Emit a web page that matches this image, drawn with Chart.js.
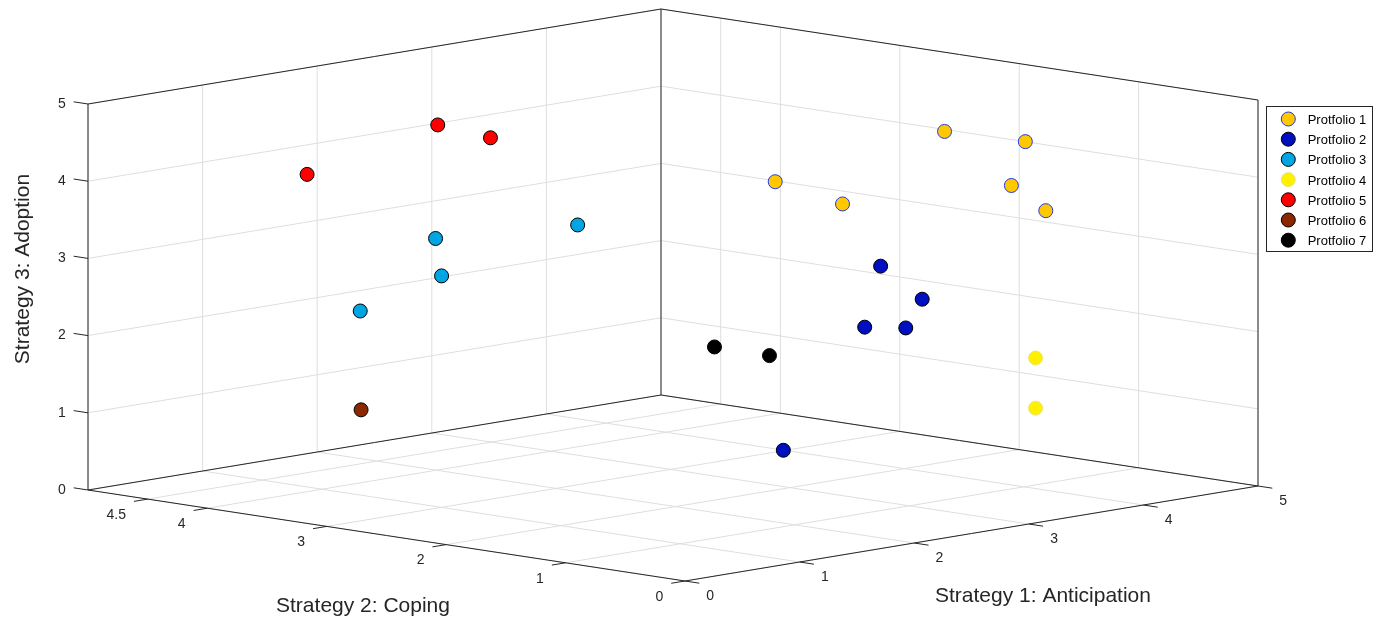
<!DOCTYPE html>
<html>
<head>
<meta charset="utf-8">
<style>
  html, body { margin: 0; padding: 0; background: #ffffff; }
  canvas { display: block; }
</style>
<script src="https://cdn.jsdelivr.net/npm/chart.js@4/dist/chart.umd.min.js"></script>
</head>
<body>
<canvas id="chart" width="1380" height="617"></canvas>
<script>
// Portfolio membership of each respondent, and its score on the three strategies
const portfolioNames = ['Protfolio 1', 'Protfolio 2', 'Protfolio 3', 'Protfolio 4', 'Protfolio 5', 'Protfolio 6', 'Protfolio 7'];
const portfolio    = [1, 1, 1, 1, 1, 1,   2, 2, 2, 2, 2,   3, 3, 3, 3,   4, 4,   5, 5, 5,   6,   7, 7];
const anticipation = [2.35, 3.25, 4.14, 4.22, 3.89, 4.19,   3.27, 3.32, 2.61, 2.76, 1.90,   2.71, 1.47, 1.21, 0.50,   3.58, 3.58,   0.87, 2.01, 2.47,   0.82,   1.82, 2.30];
const coping       = [1.5, 1.8, 1.8, 1.2, 1.0, 1.0,   1.5, 1.2, 1.0, 0.8, 1.0,   3.5, 3.5, 3.2, 3.2,   0.5, 0.5,   4.0, 4.0, 4.0,   3.5,   1.5, 1.5];
const adoption     = [4.24, 3.66, 4.38, 4.37, 3.93, 3.53,   2.92, 2.55, 2.41, 2.41, 0.99,   3.12, 3.25, 2.90, 2.62,   1.89, 1.24,   4.11, 4.47, 4.19,   1.19,   2.23, 2.00];

// Axis ticks and limits
const anticipationTicks = [0, 1, 2, 3, 4, 5];
const copingTicks       = [0, 1, 2, 3, 4, 4.5];
const adoptionTicks     = [0, 1, 2, 3, 4, 5];
const limits = { s1: [0, 5], s2: [0, 5], z: [0, 5] };

// Marker styles per portfolio
const fills   = ['#ffc800', '#0010c0', '#00a6e4', '#fff000', '#ff0000', '#8a2800', '#000000'];
const borders = ['#2438e0', '#000000', '#000000', '#ece37a', '#000000', '#000000', '#000000'];

// Orthographic view: screen offset contributed by one unit along each data axis
const VIEW = { s1: [114.6, 19.0], s2: [-119.4, 18.2], z: [0, 77.2] };
function project(a, b, c) {
  return {
    x: VIEW.s1[0] * a + VIEW.s2[0] * b + VIEW.z[0] * c,
    y: VIEW.s1[1] * a + VIEW.s2[1] * b + VIEW.z[1] * c
  };
}

const datasets = portfolioNames.map((name, i) => {
  const pts = [];
  portfolio.forEach((p, k) => {
    if (p === i + 1) pts.push(project(anticipation[k], coping[k], adoption[k]));
  });
  return {
    label: name,
    data: pts,
    backgroundColor: fills[i],
    borderColor: borders[i],
    borderWidth: 1,
    pointRadius: 7,
    pointHoverRadius: 7
  };
});

const INK = '#262626';
const GRID = '#dedede';
const FONT = '"Liberation Sans", Arial, Helvetica, sans-serif';

const boxPlugin = {
  id: 'box3d',
  beforeDatasetsDraw(chart) {
    const ctx = chart.ctx;
    const xs = chart.scales.x, ys = chart.scales.y;
    const P = (a, b, c) => {
      const p = project(a, b, c);
      return [xs.getPixelForValue(p.x), ys.getPixelForValue(p.y)];
    };
    const seg = (p, q) => { ctx.moveTo(p[0], p[1]); ctx.lineTo(q[0], q[1]); };
    const [x0, x1] = limits.s1, [y0, y1] = limits.s2, [z0, z1] = limits.z;

    ctx.save();
    // grid on floor and on the two back walls
    ctx.strokeStyle = GRID;
    ctx.lineWidth = 1;
    ctx.beginPath();
    anticipationTicks.forEach(t => {
      seg(P(t, y0, z0), P(t, y1, z0));
      seg(P(t, y1, z0), P(t, y1, z1));
    });
    copingTicks.forEach(t => {
      seg(P(x0, t, z0), P(x1, t, z0));
      seg(P(x1, t, z0), P(x1, t, z1));
    });
    adoptionTicks.forEach(t => {
      seg(P(x0, y1, t), P(x1, y1, t));
      seg(P(x1, y0, t), P(x1, y1, t));
    });
    ctx.stroke();

    // box edges and axis lines
    ctx.strokeStyle = INK;
    ctx.beginPath();
    seg(P(x0, y0, z0), P(x1, y0, z0));
    seg(P(x0, y0, z0), P(x0, y1, z0));
    seg(P(x0, y1, z0), P(x0, y1, z1));
    seg(P(x0, y1, z1), P(x1, y1, z1));
    seg(P(x1, y1, z1), P(x1, y0, z1));
    seg(P(x1, y1, z0), P(x1, y1, z1));
    seg(P(x1, y0, z0), P(x1, y0, z1));
    seg(P(x0, y1, z0), P(x1, y1, z0));
    seg(P(x1, y1, z0), P(x1, y0, z0));
    ctx.stroke();

    // tick marks and tick labels
    const tl = 0.12;
    ctx.fillStyle = INK;
    ctx.font = '14px ' + FONT;
    ctx.textBaseline = 'alphabetic';
    ctx.beginPath();
    anticipationTicks.forEach(t => {
      const a = P(t, y0, z0), b = P(t, y0 - tl, z0);
      seg(a, b);
      ctx.textAlign = 'left';
      ctx.fillText(String(t), b[0] + 7, b[1] + 17);
    });
    copingTicks.forEach(t => {
      const a = P(x0, t, z0), b = P(x0 - tl, t, z0);
      seg(a, b);
      ctx.textAlign = 'right';
      ctx.fillText(String(t), b[0] - 8, b[1] + 17.5);
    });
    adoptionTicks.forEach(t => {
      const a = P(x0, y1, t), b = P(x0, y1 + tl, t);
      seg(a, b);
      ctx.textAlign = 'right';
      ctx.fillText(String(t), b[0] - 8, b[1] + 6);
    });
    ctx.stroke();

    // axis titles
    ctx.font = '21px ' + FONT;
    ctx.textAlign = 'center';
    const m1 = P((x0 + x1) / 2, y0, z0);
    ctx.fillText('Strategy 1: Anticipation', m1[0] + 71.5, m1[1] + 68);
    const m2 = P(x0, (y0 + y1) / 2, z0);
    ctx.fillText('Strategy 2: Coping', m2[0] - 23.5, m2[1] + 76);
    const m3 = P(x0, y1, (z0 + z1) / 2);
    ctx.save();
    ctx.translate(m3[0] - 59.5, m3[1] - 28);
    ctx.rotate(-Math.PI / 2);
    ctx.fillText('Strategy 3: Adoption', 0, 0);
    ctx.restore();
    ctx.restore();
  },
  afterDraw(chart) {
    // boxed legend at the upper right
    const ctx = chart.ctx;
    const left = 1266.5, top = 106.5, w = 106, h = 145;
    ctx.save();
    ctx.fillStyle = '#ffffff';
    ctx.fillRect(left, top, w, h);
    ctx.strokeStyle = INK;
    ctx.lineWidth = 1;
    ctx.strokeRect(left, top, w, h);
    ctx.font = '13px ' + FONT;
    ctx.textAlign = 'left';
    ctx.textBaseline = 'alphabetic';
    chart.data.datasets.forEach((ds, i) => {
      const cy = top + 12.5 + i * 20.2;
      const cx = left + 21.8;
      ctx.beginPath();
      ctx.arc(cx, cy, 7, 0, Math.PI * 2);
      ctx.fillStyle = ds.backgroundColor;
      ctx.fill();
      ctx.strokeStyle = ds.borderColor;
      ctx.stroke();
      ctx.fillStyle = '#000000';
      ctx.fillText(ds.label, left + 41.2, cy + 5);
    });
    ctx.restore();
  }
};

new Chart(document.getElementById('chart'), {
  type: 'scatter',
  data: { datasets },
  options: {
    responsive: false,
    animation: false,
    devicePixelRatio: 1,
    layout: { padding: 0, autoPadding: false },
    plugins: { legend: { display: false }, tooltip: { enabled: false } },
    events: [],
    scales: {
      x: { type: 'linear', display: false, min: -685, max: 695 },
      y: { type: 'linear', display: false, min: -36, max: 581 }
    }
  },
  plugins: [boxPlugin]
});
</script>
</body>
</html>
